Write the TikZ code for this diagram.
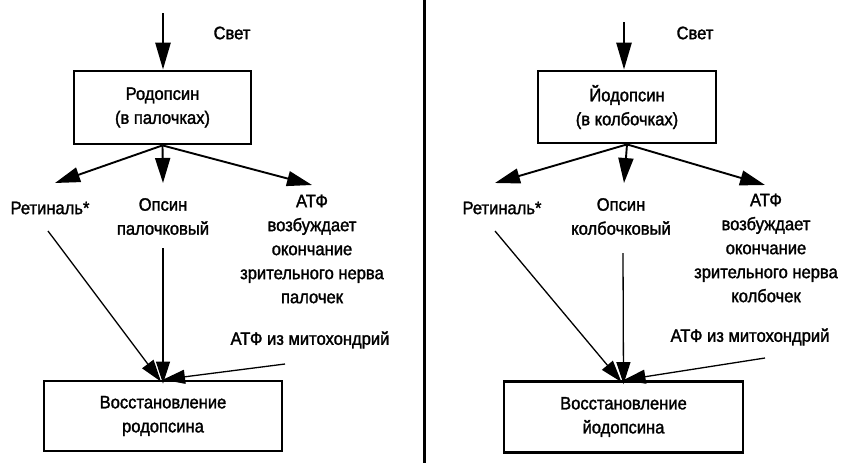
\documentclass[tikz,border=0pt]{standalone}
\usepackage{fontspec}
\setmainfont{Liberation Sans}
\newfontfamily\diagfont[FakeStretch=0.92,FakeBold=1.6]{Liberation Sans}
\usetikzlibrary{arrows.meta}
\begin{document}
\begin{tikzpicture}[x=1pt,y=-1pt,
  every node/.style={font=\diagfont\fontsize{18}{24}\selectfont},
  box/.style={draw, line width=2.8pt, align=center, inner sep=0pt},
  lbl/.style={align=center, inner sep=0pt},
  big/.style={-{Triangle[length=27pt,width=15pt]}, line width=2.6pt},
  br/.style={-{Triangle[length=25pt,width=15pt]}, line width=1.9pt},
  cv/.style={-{Triangle[length=22pt,width=14pt]}, line width=1.3pt}]
\useasboundingbox (0,0) rectangle (843,463);
% divider
\coordinate (dTop) at (424,0);
\coordinate (dBot) at (424,463);
\draw[line width=3pt] (dTop) -- (dBot);
% ---------------- left panel
\node[lbl] (svetL) at (232,33) {Свет};
\node[box, minimum width=177pt, minimum height=73pt] (rodo) at (162.5,107.5) {Родопсин\\(в палочках)};
\node[lbl] (retL) at (50,208) {Ретиналь*};
\node[lbl] (opsL) at (163,216.5) {Опсин\\палочковый};
\node[lbl] (atpL) at (312,249) {АТФ\\возбуждает\\окончание\\зрительного нерва\\палочек};
\node[lbl] (mitoL) at (310,340) {АТФ из митохондрий};
\node[box, minimum width=238pt, minimum height=70pt] (vosL) at (163,416) {Восстановление\\родопсина};
\coordinate (topL) at (163,13);
\coordinate (tRetL) at (55,183);
\coordinate (tOpsL) at (163,183);
\coordinate (tAtpL) at (312,185);
\coordinate (sRetL) at (48,231);
\coordinate (sOpsL) at (163,248);
\coordinate (sMitoL) at (285,364);
\draw[big] (topL) -- (topL |- rodo.north);
\draw[br] (rodo.south) -- (tRetL);
\draw[br] (rodo.south) -- (tOpsL);
\draw[br] (rodo.south) -- (tAtpL);
\draw[cv] (sRetL) -- ([xshift=-2pt,yshift=-2pt]vosL.north);
\draw[cv] (sOpsL) -- ([yshift=-4pt]vosL.north);
\draw[cv] (sMitoL) -- (vosL.north);
% ---------------- right panel
\node[lbl] (svetR) at (695,33) {Свет};
\node[box, minimum width=178pt, minimum height=72pt] (iodo) at (627,107) {Йодопсин\\(в колбочках)};
\node[lbl] (retR) at (502,208) {Ретиналь*};
\node[lbl] (opsR) at (621,216.5) {Опсин\\колбочковый};
\node[lbl] (atpR) at (766,248) {АТФ\\возбуждает\\окончание\\зрительного нерва\\колбочек};
\node[lbl] (mitoR) at (750,337) {АТФ из митохондрий};
\node[box, minimum width=239pt, minimum height=71pt] (vosR) at (623.5,417) {Восстановление\\йодопсина};
\coordinate (topR) at (624,22);
\coordinate (tRetR) at (495,183);
\coordinate (tOpsR) at (624,183);
\coordinate (tAtpR) at (765,185);
\coordinate (sRetR) at (495,231);
\coordinate (sOpsR) at (623,253);
\coordinate (sMitoR) at (765,358);
\draw[big] (topR) -- (topR |- iodo.north);
\draw[br] (iodo.south) -- (tRetR);
\draw[br] (iodo.south) -- (tOpsR);
\draw[br] (iodo.south) -- (tAtpR);
\draw[cv] (sRetR) -- ([xshift=-2pt,yshift=-2pt]vosR.north);
\draw[cv] (sOpsR) -- ([yshift=-4pt]vosR.north);
\draw[cv] (sMitoR) -- (vosR.north);
\end{tikzpicture}
\end{document}
